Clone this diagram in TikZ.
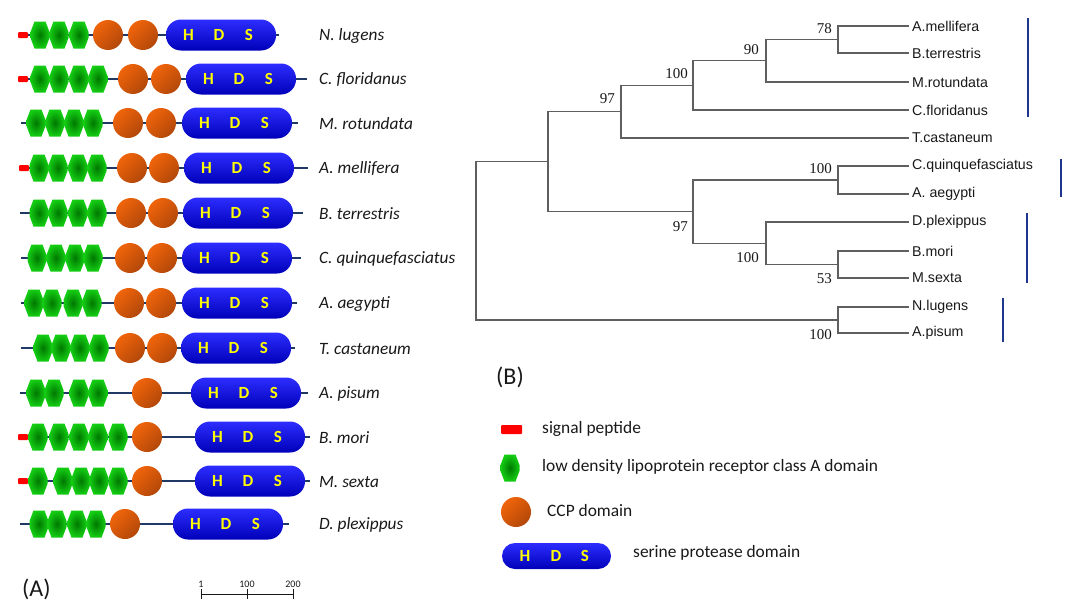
\documentclass[tikz,border=0pt]{standalone}
\usepackage{fontspec}
\setmainfont{Carlito}
\newfontfamily\arialf{Liberation Sans}
\newfontfamily\timesf{Liberation Serif}
\definecolor{bbone}{RGB}{31,56,100}
\definecolor{hexin}{RGB}{0,120,0}
\definecolor{hexout}{RGB}{20,205,20}
\definecolor{ccplight}{RGB}{240,100,10}
\definecolor{ccpdark}{RGB}{178,72,10}
\definecolor{sptop}{RGB}{45,45,255}
\definecolor{spmid}{RGB}{0,0,235}
\definecolor{spbot}{RGB}{0,0,185}
\definecolor{hdsyel}{RGB}{255,255,0}
\definecolor{sigred}{RGB}{255,0,0}
\definecolor{treegray}{RGB}{95,95,95}
\definecolor{barblue}{RGB}{30,55,140}
\definecolor{txt}{RGB}{25,25,25}
\tikzset{
  backbone/.style={draw=bbone, line width=2.5pt},
  hexfill/.style={inner color=hexin, outer color=hexout},
  ccpfill/.style={top color=ccplight, bottom color=ccpdark, shading angle=45},
  spfill/.style={top color=sptop, middle color=spmid, bottom color=spbot},
  sigfill/.style={fill=sigred, rounded corners=1pt},
  hds/.style={text=hdsyel, font=\bfseries\fontsize{17}{17}\selectfont, inner sep=0pt},
  splabel/.style={anchor=west, inner sep=0pt, text=txt, font=\itshape\fontsize{17.3}{17.3}\selectfont},
  leaf/.style={anchor=west, inner sep=3pt, text=txt, font=\arialf\fontsize{14.2}{14.2}\selectfont},
  bs/.style={anchor=east, inner sep=0pt, text=txt, font=\timesf\fontsize{15}{15}\selectfont},
  treeline/.style={draw=treegray, line width=1.3pt},
  cladebar/.style={draw=barblue, line width=1.6pt},
  legtext/.style={anchor=west, inner sep=0pt, text=txt, font=\fontsize{17.4}{17.4}\selectfont},
  panel/.style={anchor=west, inner sep=0pt, text=txt, font=\fontsize{24}{24}\selectfont},
  scalelab/.style={text=txt, font=\fontsize{10}{10}\selectfont, anchor=south, inner sep=0pt},
  ldla/.pic={\shade[hexfill] (-9.5,-3) -- (-5.5,-13.5) -- (5.5,-13.5) -- (9.5,-3) -- (9.5,3) -- (5.5,13.5) -- (-5.5,13.5) -- (-9.5,3) -- cycle;},
  ccp/.pic={\shade[ccpfill] (0,0) circle[radius=15pt];},
  sig/.pic={\fill[sigfill] (0,-3) rectangle (10,3);},
  spd/.pic={\shade[spfill, rounded corners=15pt] (0,-15.5) rectangle (110,15.5);
    \node[hds] at (22.5,0) {H}; \node[hds] at (53,0) {D}; \node[hds] at (83,0) {S};},
}
\newcommand\protrow[9]{%
  \draw[backbone] (#2,#1) -- (#3,#1);
  \ifnum#4=1 \pic at (#2,#1) {sig};\fi
  \foreach \xx in {#5} {\pic at (\xx,#1) {ldla};}
  \foreach \xx in {#6} {\pic at (\xx,#1) {ccp};}
  \pic at (#7,#1) {spd};
  \node[splabel] (#9) at (319,#1+1) {#8};
}
\begin{document}
\begin{tikzpicture}[x=1pt,y=-1pt]
\useasboundingbox[fill=white] (0,0) rectangle (1066,613);
% ---------- panel A ----------
\protrow{35}{18}{279}{1}{40,59,79}{108,143}{166}{N. lugens}{pNl}
\protrow{79}{18}{307}{1}{40,59,79,98}{133,166}{186}{C. floridanus}{pCf}
\protrow{123}{21}{298}{0}{36,55,74,93}{128,161}{182}{M. rotundata}{pMr}
\protrow{168}{19}{308}{1}{39,58,78,97}{132,164}{184}{A. mellifera}{pAm}
\protrow{213}{20}{303}{0}{39,58,78,97}{131,163}{183}{B. terrestris}{pBt}
\protrow{258}{21}{301}{0}{37,56,75,93}{130,162}{182}{C. quinquefasciatus}{pCq}
\protrow{303}{21}{297}{0}{34,52,73,92}{129,161}{182}{A. aegypti}{pAa}
\protrow{348}{21}{295}{0}{43,61,80,99}{130,162}{181}{T. castaneum}{pTc}
\protrow{393}{20}{308}{0}{36,54,79,98}{147}{191}{A. pisum}{pAp}
\protrow{437}{18}{310}{1}{38,59,79,98,118}{147}{195}{B. mori}{pBm}
\protrow{481}{18}{310}{1}{38,63,81,99,118}{147}{195}{M. sexta}{pMs}
\protrow{524}{20}{289}{0}{39,57,77,96}{125}{173}{D. plexippus}{pDp}
\node[panel] (labA) at (22,589) {(A)};
% scale bar
\coordinate (s1) at (201,594);
\coordinate (s2) at (247,594);
\coordinate (s3) at (293,594);
\draw[draw=txt, line width=1pt] (s1) -- (s3);
\foreach \c in {s1,s2,s3} {\draw[draw=txt, line width=1pt] ([yshift=5pt]\c) -- ([yshift=-5pt]\c);}
\node[scalelab] (t1) at (201,588) {1};
\node[scalelab] (t2) at (247,588) {100};
\node[scalelab] (t3) at (293,588) {200};
% ---------- panel B: tree ----------
\node[leaf] (lAm) at (909,26) {A.mellifera};
\node[leaf] (lBt) at (909,53) {B.terrestris};
\node[leaf] (lMr) at (909,82) {M.rotundata};
\node[leaf] (lCf) at (909,110) {C.floridanus};
\node[leaf] (lTc) at (909,138) {T.castaneum};
\node[leaf] (lCq) at (909,166) {C.quinquefasciatus};
\node[leaf] (lAa) at (909,194) {A. aegypti};
\node[leaf] (lDp) at (909,222) {D.plexippus};
\node[leaf] (lBm) at (909,251) {B.mori};
\node[leaf] (lMs) at (909,278) {M.sexta};
\node[leaf] (lNl) at (909,307) {N.lugens};
\node[leaf] (lAp) at (909,333) {A.pisum};
\coordinate (n78) at (838,39.5);
\coordinate (n90) at (766,60.75);
\coordinate (n100a) at (693,85.4);
\coordinate (n97a) at (621,111.7);
\coordinate (nMos) at (838,180);
\coordinate (n53) at (838,264.5);
\coordinate (nLep) at (766,243.25);
\coordinate (n97b) at (693,211.6);
\coordinate (nA) at (548,161.7);
\coordinate (nHem) at (838,320);
\coordinate (root) at (476,240.8);
\draw[treeline] (n78) |- (lAm.west) (n78) |- (lBt.west)
  (n90) |- (n78) (n90) |- (lMr.west)
  (n100a) |- (n90) (n100a) |- (lCf.west)
  (n97a) |- (n100a) (n97a) |- (lTc.west)
  (nMos) |- (lCq.west) (nMos) |- (lAa.west)
  (n53) |- (lBm.west) (n53) |- (lMs.west)
  (nLep) |- (lDp.west) (nLep) |- (n53)
  (n97b) |- (nMos) (n97b) |- (nLep)
  (nA) |- (n97a) (nA) |- (n97b)
  (nHem) |- (lNl.west) (nHem) |- (lAp.west)
  (root) |- (nA) (root) |- (nHem);
\node[bs] (b78) at (832,29) {78};
\node[bs] (b90) at (759,50) {90};
\node[bs] (b100a) at (688,74) {100};
\node[bs] (b97a) at (615,99) {97};
\node[bs] (b97b) at (688,227) {97};
\node[bs] (b100m) at (832,169) {100};
\node[bs] (b100l) at (759,258) {100};
\node[bs] (b53) at (832,279) {53};
\node[bs] (b100h) at (832,335) {100};
% clade bars
\draw[cladebar] (1028,18) -- (1028,117);
\draw[cladebar] (1061,159) -- (1061,197);
\draw[cladebar] (1027,213) -- (1027,283);
\draw[cladebar] (1003,298) -- (1003,342);
\node[panel] (labB) at (496,377) {(B)};
% ---------- legend ----------
\fill[sigfill] (501,425) rectangle (522,434);
\node[legtext] (g1) at (542,429) {signal peptide};
\pic at (510,468) {ldla};
\node[legtext] (g2) at (542,467) {low density lipoprotein receptor class A domain};
\pic at (516,512) {ccp};
\node[legtext] (g3) at (547,511) {CCP domain};
\shade[spfill, rounded corners=13pt] (502,543) rectangle (611,569);
\node[hds] (gh) at (525,556) {H};
\node[hds] (gd) at (556,556) {D};
\node[hds] (gs) at (585,556) {S};
\node[legtext] (g4) at (633,553) {serine protease domain};
\end{tikzpicture}
\end{document}
